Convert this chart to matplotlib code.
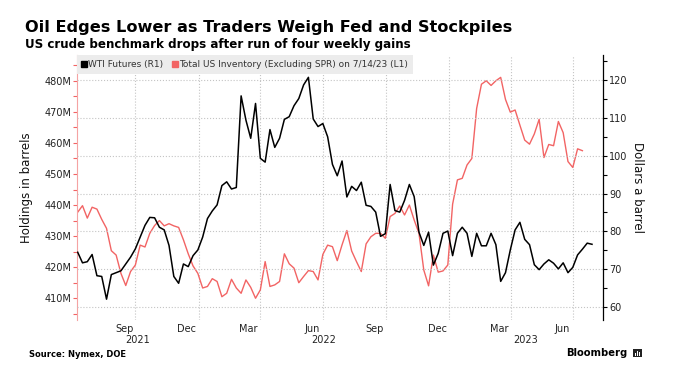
import matplotlib
matplotlib.use("Agg")
import matplotlib.pyplot as plt
import matplotlib.dates as mdates
import pandas as pd
from matplotlib.lines import Line2D
from matplotlib.patches import Rectangle
from matplotlib.ticker import MultipleLocator, FuncFormatter, NullFormatter
from matplotlib.transforms import blended_transform_factory

# weekly values, first week ends 2021-07-09
wti = [74.5, 71.7, 72.0, 73.9, 68.3, 68.1, 62.1, 68.6, 69.1, 69.6, 71.4, 73.2,
       75.4, 78.5, 81.6, 83.7, 83.6, 81.1, 80.4, 76.3, 68.1, 66.3, 71.4, 70.7,
       73.6, 75.1, 78.5, 83.4,
       85.4, 87.0, 92.1, 93.1, 91.2, 91.6, 115.8, 109.4, 104.6, 113.8, 99.3, 98.3,
       106.9, 102.2, 104.6, 109.6, 110.3, 113.2, 115.1, 118.7, 120.7, 109.7, 107.7,
       108.5, 105.0, 97.7, 94.7,
       98.6, 89.1, 91.9, 90.8, 93.0, 86.9, 86.6, 85.1, 78.7, 79.4, 92.4, 85.5,
       85.1, 88.2, 92.4, 89.2, 79.8, 76.3, 79.8, 71.1, 74.2, 79.5, 80.1, 73.6,
       79.5, 81.1, 79.5,
       73.4, 79.5, 76.2, 76.2, 79.5, 76.5, 66.8, 69.1, 75.1, 80.4, 82.4, 77.9,
       76.5, 71.2, 69.9, 71.4, 72.5, 71.6, 70.1, 71.7, 69.1, 70.5, 73.8, 75.3,
       76.9, 76.6]

inventory = [437.7, 439.8, 435.8, 439.3, 438.7, 435.4, 432.5, 425.3, 423.9, 418.0,
             414.1, 418.6, 420.7, 427.1, 426.5, 430.9, 433.4, 435.0, 433.3, 434.0,
             433.3, 432.8, 428.8, 424.3, 420.4, 418.0, 413.3, 413.8,
             416.3, 415.4, 410.5, 411.6, 416.1, 413.3, 411.6, 415.9, 413.5, 410.0,
             412.7, 421.8, 413.8, 414.3, 415.4, 424.3, 421.1, 419.7, 415.0, 417.0,
             418.9, 418.6, 415.9, 424.1, 427.1, 426.6, 422.1,
             427.2, 431.8, 425.2, 421.8, 418.6, 427.5, 429.8, 430.9, 430.9, 429.3,
             436.3, 437.3, 439.7, 436.8, 440.0, 435.2, 430.9, 419.1, 414.0, 423.9,
             418.4, 418.8, 420.7, 440.3, 448.1, 448.6, 452.9,
             455.0, 471.1, 478.9, 480.0, 478.5, 480.0, 481.1, 474.0, 469.9, 470.6,
             465.7, 460.9, 459.6, 462.9, 467.6, 455.3, 459.5, 459.1, 466.9, 463.3,
             454.0, 452.1, 458.1, 457.5]

wti_dates = pd.date_range("2021-07-09", periods=len(wti), freq="7D")
inv_dates = wti_dates[:len(inventory)]
years = [2021, 2022, 2023]

red = "#f26464"
x_start = pd.Timestamp("2021-07-08")
x_end = pd.Timestamp("2023-08-13")

fig = plt.figure(figsize=(6.8, 3.82), dpi=100)
ax = fig.add_axes([77 / 680, 62 / 382, 526 / 680, 265 / 382])
ax2 = ax.twinx()

ax.plot(inv_dates, inventory, color=red, lw=1.0)
ax2.plot(wti_dates, wti, color="black", lw=1.1)

ax.set_xlim(x_start, x_end)
ax.set_ylim(403.0, 488.3)
ax2.set_ylim(56.6, 126.6)

# quarter-end gridlines, month names centred mid-month
ax.xaxis.set_major_locator(mdates.MonthLocator(bymonth=[1, 4, 7, 10]))
ax.xaxis.set_major_formatter(NullFormatter())
ax.xaxis.set_minor_locator(mdates.MonthLocator(bymonth=[3, 6, 9, 12], bymonthday=15))
ax.xaxis.set_minor_formatter(mdates.DateFormatter("%b"))
ax.tick_params(axis="x", which="both", length=0, labelsize=7, pad=3, labelcolor="#222222")
ax.grid(True, axis="x", which="major", ls=":", color="#c4c4c4", lw=0.8)
ax2.grid(True, axis="y", which="major", ls=":", color="#c4c4c4", lw=0.8)
ax.set_axisbelow(True)
ax2.set_axisbelow(True)

ax.yaxis.set_major_locator(MultipleLocator(10))
ax.yaxis.set_minor_locator(MultipleLocator(5))
ax.yaxis.set_major_formatter(FuncFormatter(lambda v, p: f"{v:.0f}M"))
ax.tick_params(axis="y", which="both", colors=red, length=3, width=0.8,
               labelsize=7, labelcolor="#222222", pad=1)

ax2.yaxis.set_major_locator(MultipleLocator(10))
ax2.yaxis.set_minor_locator(MultipleLocator(5))
ax2.tick_params(axis="y", which="both", colors="black", length=3, width=0.8,
                labelsize=7, labelcolor="#222222", pad=1.5)

for s in ["top", "bottom", "right"]:
    ax.spines[s].set_visible(False)
for s in ["top", "bottom", "left"]:
    ax2.spines[s].set_visible(False)
ax.spines["left"].set_color("#f5a3a3")
ax.spines["left"].set_linewidth(0.8)
ax2.spines["right"].set_linewidth(0.9)

ax.set_ylabel("Holdings in barrels", fontsize=8.5, color="#111111")
ax.yaxis.set_label_coords(-0.084, 0.5)
ax2.set_ylabel("Dollars a barrel", fontsize=8.5, color="#111111", rotation=270, va="center")
ax2.yaxis.set_label_coords(1.065, 0.5)

# year labels under the middle of each visible year
trans = blended_transform_factory(ax.transData, fig.transFigure)
for y in years:
    lo = max(x_start, pd.Timestamp(f"{y}-01-01"))
    hi = min(x_end, pd.Timestamp(f"{y + 1}-01-01"))
    mid = lo + (hi - lo) / 2
    ax.text(mid, 1 - 340 / 382, str(y), transform=trans, ha="center", va="center",
            fontsize=7, color="#222222")

handles = [Line2D([], [], marker="s", color="black", ls="none", markersize=4.5),
           Line2D([], [], marker="s", color=red, ls="none", markersize=4.5)]
labels = ["WTI Futures (R1)", "Total US Inventory (Excluding SPR) on 7/14/23 (L1)"]
leg = ax2.legend(handles, labels, loc="upper left", bbox_to_anchor=(0, 1),
                 borderaxespad=0, ncol=2, frameon=True, fancybox=False,
                 facecolor="#ececec", edgecolor="none", framealpha=1,
                 fontsize=6.5, handlelength=0.5, handletextpad=0.2,
                 columnspacing=1.0, borderpad=0.55)
for t in leg.get_texts():
    t.set_color("#333333")

fig.text(25 / 680, 1 - 31.7 / 382, "Oil Edges Lower as Traders Weigh Fed and Stockpiles",
         fontsize=11.6, fontweight="bold", va="baseline", ha="left")
fig.text(25 / 680, 1 - 48.3 / 382, "US crude benchmark drops after run of four weekly gains",
         fontsize=8.6, fontweight="bold", va="baseline", ha="left")
fig.text(29 / 680, 1 - 357 / 382, "Source: Nymex, DOE",
         fontsize=6.0, fontweight="bold", va="baseline", ha="left")
fig.text(627 / 680, 1 - 356 / 382, "Bloomberg",
         fontsize=7.2, fontweight="bold", va="baseline", ha="right")

# small Bloomberg badge
fig.patches.append(Rectangle((633 / 680, 1 - 357 / 382), 8.5 / 680, 8.5 / 382,
                             transform=fig.transFigure, facecolor="#222222",
                             edgecolor="none"))
for bx, bh in [(635.2, 3.0), (637.2, 5.0), (639.2, 4.0)]:
    fig.patches.append(Rectangle((bx / 680, 1 - 355.5 / 382), 1.1 / 680, bh / 382,
                                 transform=fig.transFigure, facecolor="white",
                                 edgecolor="none"))

fig.savefig("out.png", dpi=100)
